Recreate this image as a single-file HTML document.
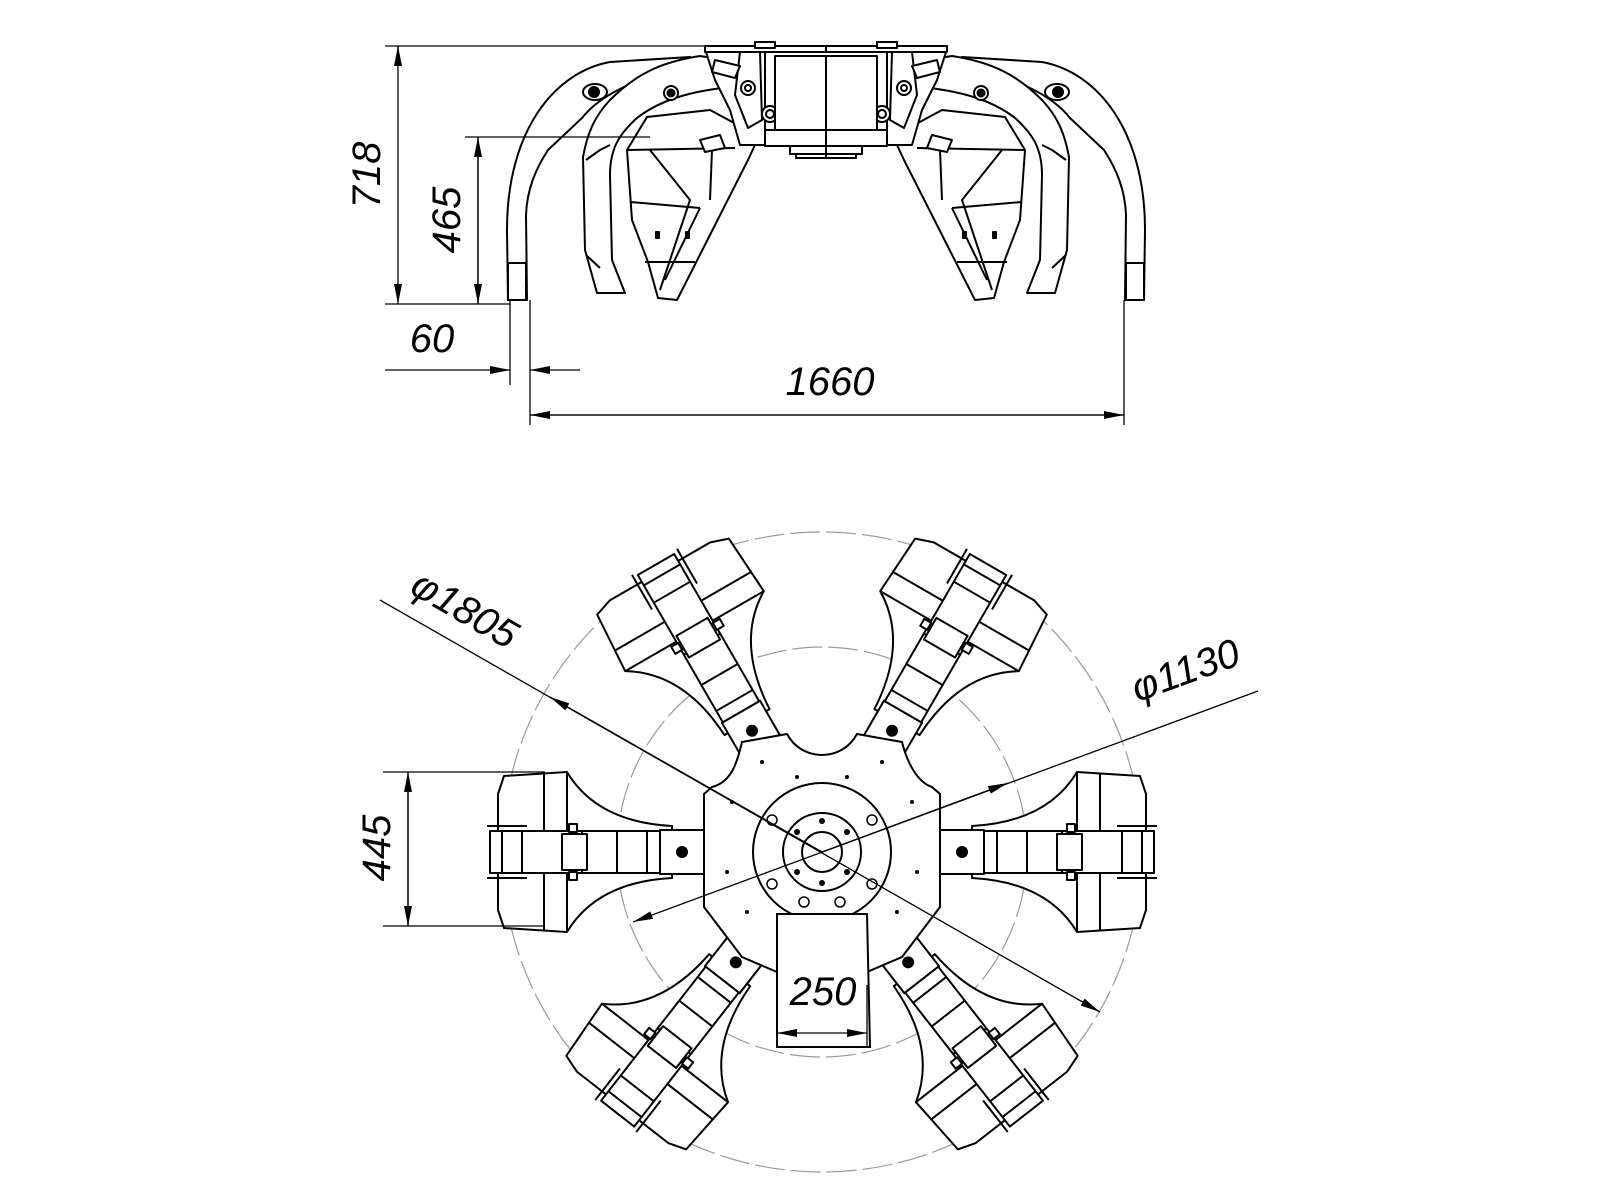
<!DOCTYPE html>
<html><head><meta charset="utf-8"><style>html,body{margin:0;padding:0;background:#fff}svg{display:block}</style></head>
<body>
<svg width="1600" height="1200" viewBox="0 0 1600 1200" xmlns="http://www.w3.org/2000/svg" font-family="Liberation Sans, sans-serif">
<defs>
<marker id="ar" viewBox="0 0 20 8" refX="20" refY="4" markerWidth="20" markerHeight="8" orient="auto" markerUnits="userSpaceOnUse"><path d="M0,0 L20,4 L0,8 Z" fill="#000"/></marker>
<g id="half" fill="#fff" stroke="#000" stroke-width="2" stroke-linejoin="round">
  <path d="M508,300 L507,230 C507,130 555,72 610,62 L690,57 L686,70 C640,75 600,95 582,118 L548,150 C535,170 527,190 526,215 L527,300 Z"/>
  <rect x="508" y="263" width="18" height="37"/>
  <ellipse cx="595" cy="92" rx="12" ry="8"/><circle cx="594" cy="92" r="5" fill="#000"/>
  <path d="M597,293 L585,250 L583,157 C588,130 596,115 610,100 C635,75 660,62 700,56 L725,60 L740,85 L722,88 C690,92 660,100 637,118 C618,135 610,150 610,175 L612,260 L625,293 Z"/>
  <path d="M586,160 L600,150 L610,145" fill="none"/>
  <path d="M586,255 L600,268" fill="none"/>
  <circle cx="671" cy="93" r="7"/><circle cx="671" cy="93" r="3.5" fill="#000"/>
  <path d="M647,117 L710,110 L747,130 L755,145 L748,160 L677,300 L658,298 L648,262 L632,220 L627,150 Z"/>
  <path d="M627,150 L735,148 M630,202 L700,208 M645,262 L695,262 M650,150 L690,200 L660,290 M700,208 L665,280 M712,150 L710,200" fill="none"/>
  <rect x="656" y="232" width="3" height="6" fill="#000"/><rect x="686" y="232" width="3" height="6" fill="#000"/>
  <path d="M700,140 L720,135 L725,148 L705,152 Z"/>
  <path d="M705,49 L765,48 L765,145 L740,145 L730,110 L715,80 Z"/>
  <path d="M740,52 L760,52 L762,120 L748,128 L735,95 Z"/>
  <circle cx="748" cy="88" r="7"/><circle cx="748" cy="88" r="3"/>
  <circle cx="770" cy="114" r="8"/><circle cx="770" cy="114" r="4"/>
  <path d="M715,60 L740,66 L735,78 L712,72 Z"/>
  <rect x="765" y="130" width="61" height="16"/>
  <rect x="790" y="146" width="36" height="8"/>
  <rect x="796" y="154" width="30" height="4"/>
  <rect x="775" y="56" width="51" height="74"/>
  <rect x="705" y="46" width="121" height="6"/>
  <rect x="755" y="42" width="20" height="6"/>
</g>
<g id="arm" fill="#fff" stroke="#000" stroke-width="2" stroke-linejoin="round">
  <path d="M150,-26 Q225,-30 255,-80 L318,-76 L324,-58 L324,58 L318,76 L255,80 Q225,30 150,26 Z"/>
  <path d="M255,-80 L255,80 M278,-78 L278,78" fill="none"/>
  <rect x="118" y="-22" width="44" height="44"/>
  <circle cx="140" cy="0" r="5" fill="#000"/>
  <rect x="162" y="-21" width="170" height="42"/>
  <path d="M175,-21 L175,21 M205,-21 L205,21 M240,-21 L240,21 M300,-21 L300,21 M320,-21 L320,21" fill="none"/>
  <rect x="235" y="-18" width="25" height="36"/>
  <rect x="245" y="-28" width="8" height="8"/><rect x="245" y="20" width="8" height="8"/>
  <path d="M295,-26 L335,-26 M295,26 L335,26" fill="none"/>
</g>
</defs>

<use href="#half"/>
<use href="#half" transform="translate(1652,0) scale(-1,1)"/>

<g stroke="#000" stroke-width="1.3" fill="none">
  <line x1="385" y1="46" x2="705" y2="46"/>
  <line x1="385" y1="304" x2="510" y2="304"/>
  <line x1="465" y1="137" x2="650" y2="137"/>
  <line x1="398" y1="66" x2="398" y2="46" marker-end="url(#ar)"/>
  <line x1="478" y1="304" x2="478" y2="137" marker-end="url(#ar)"/>
  <line x1="478" y1="137" x2="478" y2="304" marker-end="url(#ar)"/>
  <line x1="398" y1="46" x2="398" y2="304" marker-end="url(#ar)"/>
  <line x1="510" y1="300" x2="510" y2="385"/>
  <line x1="530" y1="300" x2="530" y2="425"/>
  <line x1="1124" y1="300" x2="1124" y2="425"/>
  <line x1="385" y1="370" x2="510" y2="370" marker-end="url(#ar)"/>
  <line x1="580" y1="370" x2="530" y2="370" marker-end="url(#ar)"/>
  <line x1="530" y1="415" x2="1124" y2="415" marker-end="url(#ar)"/>
  <line x1="1124" y1="415" x2="530" y2="415" marker-end="url(#ar)"/>
</g>
<g font-size="40" font-style="italic" fill="#000">
  <text transform="translate(380,175) rotate(-90)" text-anchor="middle">718</text>
  <text transform="translate(460,220) rotate(-90)" text-anchor="middle">465</text>
  <text x="432" y="352" text-anchor="middle">60</text>
  <text x="830" y="395" text-anchor="middle">1660</text>
</g>

<g fill="none" stroke="#999" stroke-width="1.2" stroke-dasharray="30,6">
  <circle cx="822" cy="852" r="320"/>
  <circle cx="822" cy="852" r="205"/>
</g>
<g transform="translate(822,852)">
  <use href="#arm" transform="rotate(-120)"/>
  <use href="#arm" transform="rotate(-60)"/>
  <use href="#arm" transform="rotate(0)"/>
  <use href="#arm" transform="rotate(180)"/>
  <use href="#arm" transform="rotate(128)"/>
  <use href="#arm" transform="rotate(52)"/>
  <g fill="#fff" stroke="#000" stroke-width="2">
    <path d="M-118,-58 L-110,-65 C-90,-70 -85,-90 -80,-110 L-35,-118 C-20,-90 20,-90 35,-118 L80,-110 C85,-90 95,-70 110,-65 L118,-58 L118,55 L80,105 L45,120 L-45,120 L-80,105 L-118,55 Z"/>
    <circle r="69"/>
    <circle r="39"/>
    <circle r="20"/>
    <path d="M-45,62 L45,62 L48,195 L-45,195 Z"/>
  </g>
  <g fill="#000">
    <circle cx="-25" cy="-20" r="3"/><circle cx="25" cy="-20" r="3"/><circle cx="0" cy="-31" r="3"/>
    <circle cx="0" cy="31" r="3"/><circle cx="-25" cy="20" r="3"/><circle cx="25" cy="20" r="3"/>
    <circle cx="-90" cy="-50" r="2"/><circle cx="90" cy="-50" r="2"/><circle cx="-60" cy="-90" r="2"/><circle cx="60" cy="-90" r="2"/>
    <circle cx="-95" cy="20" r="2"/><circle cx="95" cy="20" r="2"/><circle cx="-75" cy="60" r="2"/><circle cx="75" cy="60" r="2"/>
    <circle cx="-25" cy="-75" r="2"/><circle cx="25" cy="-75" r="2"/>
  </g>
  <g fill="none" stroke="#000" stroke-width="1.5">
    <circle cx="-50" cy="-32" r="5"/><circle cx="50" cy="-32" r="5"/><circle cx="-50" cy="32" r="5"/><circle cx="50" cy="32" r="5"/>
    <circle cx="-18" cy="50" r="5"/><circle cx="18" cy="50" r="5"/>
  </g>
</g>
<g stroke="#000" stroke-width="1.3" fill="none">
  <line x1="380" y1="600" x2="1100" y2="1012" marker-end="url(#ar)"/>
  <line x1="822" y1="852" x2="550" y2="697" marker-end="url(#ar)"/>
  <line x1="1258" y1="691" x2="633" y2="922" marker-end="url(#ar)"/>
  <line x1="822" y1="852" x2="1008" y2="783" marker-end="url(#ar)"/>
  <line x1="383" y1="772" x2="545" y2="772"/>
  <line x1="383" y1="926" x2="545" y2="926"/>
  <line x1="408" y1="926" x2="408" y2="772" marker-end="url(#ar)"/>
  <line x1="408" y1="772" x2="408" y2="926" marker-end="url(#ar)"/>
  <line x1="777" y1="985" x2="777" y2="1047"/>
  <line x1="867" y1="985" x2="867" y2="1047"/>
  <line x1="822" y1="1033" x2="777" y2="1033" marker-end="url(#ar)"/>
  <line x1="822" y1="1033" x2="867" y2="1033" marker-end="url(#ar)"/>
</g>
<g font-size="40" font-style="italic" fill="#000">
  <text transform="translate(458,621) rotate(30)" text-anchor="middle">φ1805</text>
  <text transform="translate(1190,683) rotate(-20)" text-anchor="middle">φ1130</text>
  <text transform="translate(390,848) rotate(-90)" text-anchor="middle">445</text>
  <text x="823" y="1005" text-anchor="middle">250</text>
</g>
</svg>
</body></html>
